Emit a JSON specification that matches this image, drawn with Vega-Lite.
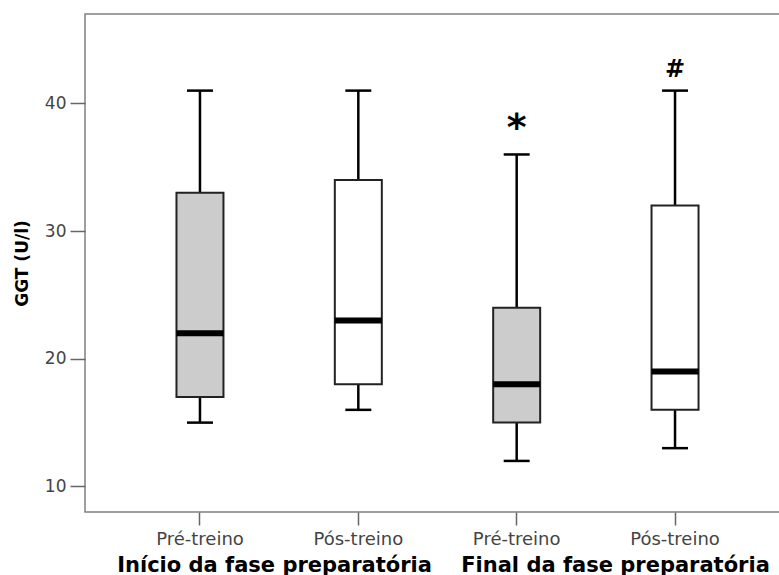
{
  "$schema": "https://vega.github.io/schema/vega-lite/v6.json",
  "autosize": {"type": "none"},
  "padding": {"left": 85, "top": 14, "right": 0, "bottom": 63},
  "width": 695,
  "height": 498,
  "background": "white",
  "config": {
    "font": "DejaVu Sans",
    "view": {"stroke": "#808080", "strokeWidth": 1.5}
  },
  "datasets": {
    "stats": [
      {"cond": "Pré-treino (início)", "momento": "Pré-treino", "min": 15, "q1": 17, "med": 22, "q3": 33, "max": 41},
      {"cond": "Pós-treino (início)", "momento": "Pós-treino", "min": 16, "q1": 18, "med": 23, "q3": 34, "max": 41},
      {"cond": "Pré-treino (final)", "momento": "Pré-treino", "min": 12, "q1": 15, "med": 18, "q3": 24, "max": 36},
      {"cond": "Pós-treino (final)", "momento": "Pós-treino", "min": 13, "q1": 16, "med": 19, "q3": 32, "max": 41}
    ],
    "notes": [
      {"cond": "Pré-treino (final)", "y": 38.5, "label": "*"},
      {"cond": "Pós-treino (final)", "y": 42.6, "label": "#"}
    ]
  },
  "encoding": {
    "x": {
      "field": "cond", "type": "nominal",
      "sort": ["Pré-treino (início)", "Pós-treino (início)", "Pré-treino (final)", "Pós-treino (final)"],
      "scale": {"paddingInner": 0, "paddingOuter": 0.226, "range": [0, 705]},
      "axis": {
        "labelExpr": "split(datum.label, ' (')[0]",
        "labelAngle": 0,
        "labelFontSize": 18,
        "labelColor": "#444444",
        "labelPadding": 5,
        "tickSize": 13,
        "tickColor": "#666666",
        "tickWidth": 1.5,
        "domain": false,
        "title": "Início da fase preparatória\u00a0\u00a0\u00a0\u00a0Final da fase preparatória",
        "titleFontSize": 21,
        "titleFontWeight": "bold",
        "titleColor": "#000000",
        "titlePadding": 6,
        "titleLimit": 2000,
        "titleX": 358
      }
    }
  },
  "layer": [
    {
      "data": {"name": "stats"},
      "mark": {"type": "rule", "color": "#000000", "strokeWidth": 2.5},
      "encoding": {
        "y": {
          "field": "min", "type": "quantitative",
          "scale": {"domain": [8, 47], "nice": false, "zero": false},
          "axis": {
            "values": [10, 20, 30, 40],
            "grid": false,
            "domain": false,
            "labelFontSize": 17,
            "labelColor": "#444444",
            "labelPadding": 4,
            "tickSize": 15,
            "tickColor": "#666666",
            "tickWidth": 1.5,
            "title": "GGT (U/l)",
            "titleFontSize": 17,
            "titleFontWeight": "bold",
            "titleColor": "#000000",
            "titlePadding": 13
          }
        },
        "y2": {"field": "max"}
      }
    },
    {
      "data": {"name": "stats"},
      "mark": {"type": "bar", "size": 47, "stroke": "#222222", "strokeWidth": 2},
      "encoding": {
        "y": {"field": "q1", "type": "quantitative"},
        "y2": {"field": "q3"},
        "fill": {
          "field": "momento", "type": "nominal",
          "scale": {"domain": ["Pré-treino", "Pós-treino"], "range": ["#cccccc", "#ffffff"]},
          "legend": null
        }
      }
    },
    {
      "data": {"name": "stats"},
      "mark": {"type": "tick", "color": "#000000", "size": 47, "thickness": 6, "opacity": 1},
      "encoding": {"y": {"field": "med", "type": "quantitative"}}
    },
    {
      "data": {"name": "stats"},
      "mark": {"type": "tick", "color": "#000000", "size": 26, "thickness": 2.5, "opacity": 1},
      "encoding": {"y": {"field": "min", "type": "quantitative"}}
    },
    {
      "data": {"name": "stats"},
      "mark": {"type": "tick", "color": "#000000", "size": 26, "thickness": 2.5, "opacity": 1},
      "encoding": {"y": {"field": "max", "type": "quantitative"}}
    },
    {
      "data": {"name": "notes"},
      "transform": [{"filter": "datum.label == '*'"}],
      "mark": {"type": "text", "fontSize": 38, "fontWeight": "bold", "color": "#000000", "baseline": "middle", "dy": 6},
      "encoding": {
        "y": {"field": "y", "type": "quantitative"},
        "text": {"field": "label"}
      }
    },
    {
      "data": {"name": "notes"},
      "transform": [{"filter": "datum.label == '#'"}],
      "mark": {"type": "text", "fontSize": 24, "fontWeight": "bold", "color": "#000000", "baseline": "middle"},
      "encoding": {
        "y": {"field": "y", "type": "quantitative"},
        "text": {"field": "label"}
      }
    }
  ]
}
